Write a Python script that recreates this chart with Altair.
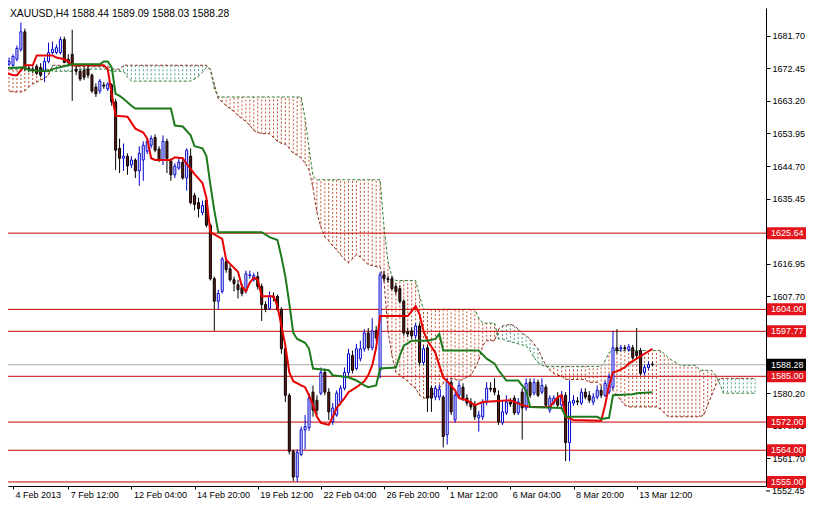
import json
import altair as alt
import numpy as np
import pandas as pd

TITLE = "XAUUSD,H4  1588.44 1589.09 1588.03 1588.28"

# ---- H4 candles, bar 0 = 4 Feb 2013 20:00 ----
OPEN = [
    1673.3, 1673.6, 1673.3, 1675.0, 1677.8, 1682.8, 1672.5, 1672.2, 1673.0, 1672.7,
    1671.6, 1674.4, 1676.9, 1676.9, 1676.9, 1680.6, 1675.0, 1676.4, 1672.2, 1671.6,
    1671.9, 1672.2, 1670.5, 1667.1, 1666.0, 1667.7, 1666.6, 1667.7, 1662.9, 1649.7,
    1646.9, 1647.5, 1645.0, 1646.4, 1643.3, 1646.4, 1648.9, 1650.6, 1652.8, 1649.5,
    1646.4, 1651.7, 1646.1, 1642.2, 1644.1, 1645.8, 1641.3, 1647.5, 1636.3, 1634.3,
    1631.5, 1634.9, 1627.9, 1612.7, 1606.3, 1609.1, 1617.5, 1615.5, 1612.4, 1611.0,
    1610.2, 1609.1, 1613.6, 1612.4, 1613.3, 1610.5, 1605.4, 1604.3, 1607.7, 1607.7,
    1604.0, 1592.8, 1579.6, 1563.7, 1556.4, 1562.8, 1569.8, 1570.4, 1580.5, 1578.2,
    1580.2, 1586.1, 1580.5, 1572.1, 1574.0, 1577.7, 1581.6, 1586.1, 1590.9, 1587.2,
    1590.0, 1592.8, 1597.3, 1593.1, 1597.9, 1586.7, 1613.8, 1612.7, 1612.7, 1610.5,
    1609.9, 1606.3, 1597.6, 1597.9, 1596.5, 1599.3, 1588.9, 1593.1, 1581.6, 1579.1,
    1579.1, 1579.1, 1568.4, 1583.3, 1572.6, 1579.6, 1581.9, 1578.8, 1577.7, 1576.8,
    1573.2, 1573.5, 1577.7, 1581.6, 1581.6, 1579.6, 1571.8, 1574.6, 1577.7, 1578.8,
    1574.6, 1580.5, 1576.0, 1583.3, 1580.2, 1583.3, 1580.5, 1581.9, 1575.4, 1577.4,
    1578.8, 1576.8, 1579.6, 1566.2, 1577.4, 1578.0, 1577.4, 1580.5, 1579.6, 1577.7,
    1579.1, 1581.0, 1579.6, 1580.5, 1581.9, 1593.1, 1592.8, 1593.1, 1592.5, 1593.1,
    1592.0, 1592.3, 1586.1, 1587.5, 1588.44,
]
HIGH = [
    1676.1, 1675.5, 1676.4, 1678.9, 1685.4, 1683.7, 1673.3, 1673.0, 1673.6, 1673.9,
    1675.5, 1679.7, 1680.0, 1679.2, 1681.4, 1681.4, 1676.4, 1683.4, 1673.3, 1672.2,
    1672.7, 1673.0, 1671.0, 1668.2, 1669.4, 1668.5, 1668.5, 1668.2, 1663.8, 1652.5,
    1651.1, 1648.3, 1647.5, 1646.9, 1650.3, 1651.7, 1652.5, 1653.4, 1653.7, 1650.3,
    1653.4, 1652.5, 1646.9, 1645.5, 1646.9, 1646.9, 1649.7, 1649.7, 1637.1, 1635.7,
    1634.9, 1635.7, 1628.4, 1613.3, 1609.6, 1618.9, 1618.3, 1616.6, 1613.3, 1612.4,
    1611.3, 1615.0, 1615.0, 1614.4, 1614.7, 1611.3, 1606.3, 1609.1, 1608.8, 1608.2,
    1604.6, 1593.7, 1580.2, 1564.2, 1564.2, 1570.7, 1574.0, 1580.2, 1582.4, 1579.6,
    1587.5, 1587.2, 1581.6, 1577.4, 1581.0, 1582.4, 1587.5, 1592.8, 1592.3, 1594.2,
    1595.1, 1598.4, 1598.7, 1601.5, 1599.3, 1614.7, 1615.0, 1613.6, 1613.6, 1611.3,
    1610.8, 1606.8, 1598.7, 1599.0, 1600.1, 1600.1, 1593.7, 1593.9, 1582.4, 1582.4,
    1582.7, 1579.6, 1584.4, 1584.1, 1580.5, 1583.6, 1583.0, 1579.9, 1578.8, 1578.0,
    1575.2, 1578.5, 1583.3, 1583.3, 1584.4, 1581.0, 1578.2, 1579.6, 1578.8, 1579.6,
    1578.8, 1581.6, 1584.4, 1584.4, 1584.4, 1584.1, 1584.4, 1582.7, 1579.6, 1579.6,
    1580.5, 1580.8, 1580.5, 1583.9, 1579.6, 1579.1, 1581.6, 1581.6, 1580.8, 1580.2,
    1582.4, 1582.2, 1583.8, 1585.8, 1597.9, 1598.4, 1593.9, 1593.9, 1594.2, 1593.9,
    1598.7, 1593.1, 1588.3, 1589.2, 1589.09,
]
LOW = [
    1672.7, 1673.0, 1672.7, 1674.4, 1677.2, 1671.6, 1671.3, 1671.0, 1670.5, 1669.9,
    1668.5, 1673.9, 1676.4, 1676.4, 1676.4, 1673.9, 1673.3, 1663.2, 1670.5, 1668.8,
    1669.1, 1669.6, 1665.4, 1664.3, 1665.2, 1666.6, 1666.0, 1661.8, 1643.6, 1642.7,
    1643.3, 1642.2, 1644.1, 1641.3, 1639.1, 1640.5, 1648.1, 1649.7, 1648.6, 1645.8,
    1645.0, 1642.7, 1640.5, 1641.3, 1643.6, 1640.8, 1637.7, 1633.8, 1632.1, 1630.1,
    1630.7, 1627.3, 1612.2, 1597.9, 1604.0, 1608.5, 1614.4, 1611.9, 1609.1, 1607.1,
    1607.7, 1608.5, 1612.7, 1611.9, 1609.6, 1600.7, 1603.2, 1603.8, 1606.3, 1603.5,
    1591.4, 1577.7, 1562.8, 1555.2, 1555.0, 1562.3, 1564.2, 1569.5, 1573.5, 1574.0,
    1579.6, 1579.6, 1572.6, 1571.2, 1573.5, 1576.8, 1581.0, 1585.2, 1585.8, 1586.7,
    1589.2, 1592.0, 1592.3, 1592.3, 1595.1, 1584.4, 1611.9, 1611.6, 1609.4, 1608.2,
    1605.7, 1596.5, 1596.2, 1595.6, 1595.6, 1588.1, 1588.3, 1574.9, 1574.9, 1578.2,
    1578.2, 1564.8, 1565.6, 1574.0, 1571.8, 1578.8, 1578.0, 1576.6, 1575.4, 1572.6,
    1569.3, 1572.6, 1576.8, 1580.5, 1579.6, 1571.2, 1571.2, 1574.0, 1576.3, 1574.0,
    1574.0, 1567.0, 1575.2, 1578.8, 1579.6, 1579.1, 1579.9, 1576.3, 1574.6, 1576.8,
    1576.3, 1576.3, 1560.9, 1560.9, 1576.6, 1576.8, 1576.8, 1578.5, 1577.4, 1576.8,
    1578.5, 1578.8, 1579.1, 1579.9, 1581.3, 1591.4, 1592.0, 1592.3, 1592.0, 1589.7,
    1590.0, 1585.2, 1585.2, 1586.9, 1588.03,
]
CLOSE = [
    1675.0, 1674.4, 1675.8, 1678.1, 1682.8, 1672.7, 1672.2, 1671.9, 1671.0, 1670.5,
    1674.4, 1676.9, 1677.8, 1678.3, 1680.6, 1674.1, 1674.1, 1673.6, 1671.6, 1669.4,
    1669.9, 1670.5, 1666.0, 1665.2, 1668.8, 1667.4, 1668.0, 1662.9, 1649.2, 1646.9,
    1647.5, 1644.7, 1646.4, 1643.3, 1648.3, 1650.6, 1651.7, 1652.5, 1649.2, 1646.4,
    1651.7, 1646.9, 1642.2, 1644.7, 1645.8, 1641.3, 1649.2, 1634.3, 1633.8, 1632.6,
    1633.5, 1627.9, 1612.7, 1606.3, 1608.5, 1618.3, 1615.3, 1612.4, 1611.3, 1609.6,
    1608.5, 1614.1, 1613.8, 1613.6, 1610.5, 1605.4, 1604.0, 1607.7, 1607.4, 1604.0,
    1592.8, 1579.6, 1563.7, 1556.4, 1563.4, 1569.8, 1570.7, 1578.8, 1575.4, 1575.4,
    1586.1, 1580.5, 1574.9, 1576.0, 1580.2, 1581.6, 1586.1, 1591.4, 1586.7, 1592.8,
    1592.8, 1597.3, 1593.1, 1597.9, 1595.9, 1613.8, 1612.7, 1612.4, 1609.9, 1609.1,
    1606.3, 1597.3, 1597.0, 1596.5, 1599.3, 1588.9, 1592.8, 1578.8, 1578.8, 1581.6,
    1581.3, 1567.9, 1583.3, 1574.9, 1579.6, 1582.4, 1578.8, 1577.4, 1576.3, 1573.5,
    1574.0, 1577.7, 1581.6, 1581.3, 1580.5, 1572.1, 1574.9, 1577.7, 1577.1, 1574.6,
    1577.7, 1576.0, 1583.0, 1579.6, 1583.3, 1579.6, 1582.4, 1576.8, 1578.8, 1578.8,
    1576.8, 1579.6, 1566.2, 1577.7, 1578.2, 1577.7, 1580.5, 1579.1, 1578.2, 1579.1,
    1581.0, 1579.6, 1583.0, 1584.7, 1593.1, 1592.3, 1593.1, 1592.8, 1593.4, 1590.3,
    1590.9, 1585.8, 1587.5, 1588.3, 1588.28,
]

# ---- Tenkan-sen (red) and Kijun-sen (green): (bar, price) vertices ----
TENKAN = [
    (0, 1671.3), (2, 1670.5), (3, 1670.5), (5, 1673.3), (7, 1673.3), (8, 1676.1),
    (12, 1676.1), (13, 1675.5), (15, 1675.0), (16, 1674.4), (17, 1673.3), (25, 1673.3),
    (26, 1672.2), (27, 1665.2), (28, 1659.0), (31, 1658.7), (33, 1655.3), (35, 1654.2),
    (36, 1652.5), (37, 1646.9), (38, 1646.4), (42, 1646.4), (43, 1647.2), (45, 1646.9),
    (46, 1645.3), (48, 1642.4), (50, 1639.9), (51, 1635.7), (52, 1625.9), (55, 1624.0),
    (56, 1618.1), (57, 1616.9), (59, 1614.7), (60, 1610.5), (61, 1609.1), (62, 1611.6),
    (63, 1613.0), (64, 1612.4), (65, 1607.7), (68, 1607.7), (69, 1604.9), (70, 1599.3),
    (71, 1593.7), (72, 1586.1), (73, 1583.6), (75, 1582.4), (76, 1581.9), (77, 1579.6),
    (78, 1576.8), (79, 1573.5), (80, 1571.8), (82, 1571.2), (83, 1573.5), (84, 1576.0),
    (86, 1578.8), (87, 1580.5), (89, 1581.9), (91, 1583.6), (92, 1585.3), (93, 1588.1),
    (94, 1593.1), (95, 1602.1), (102, 1602.1), (103, 1603.5), (104, 1604.9), (105, 1602.6),
    (106, 1597.9), (107, 1595.1), (109, 1591.7), (110, 1588.1), (111, 1584.7), (112, 1583.6),
    (114, 1581.0), (115, 1578.8), (117, 1578.2), (119, 1576.8), (121, 1577.7), (128, 1578.2),
    (131, 1576.8), (133, 1576.3), (138, 1576.3), (140, 1579.1), (141, 1579.6), (142, 1573.5),
    (144, 1572.6), (151, 1572.4), (152, 1576.8), (153, 1582.4), (154, 1586.1), (155, 1586.4),
    (157, 1587.5), (158, 1588.6), (160, 1590.0), (162, 1591.4), (164, 1592.8),
]
KIJUN = [
    (0, 1672.5), (5, 1672.7), (6, 1671.9), (11, 1671.6), (12, 1672.2), (16, 1673.3),
    (17, 1673.6), (24, 1673.6), (25, 1674.4), (26, 1674.4), (27, 1672.7), (28, 1665.2),
    (29, 1664.6), (30, 1663.8), (32, 1661.8), (33, 1661.0), (42, 1661.0), (43, 1656.2),
    (45, 1655.9), (47, 1653.4), (48, 1650.3), (50, 1649.7), (51, 1647.5), (52, 1639.4),
    (53, 1632.1), (54, 1625.9), (65, 1625.9), (67, 1624.5), (69, 1623.7), (70, 1618.9),
    (71, 1613.3), (72, 1605.7), (73, 1597.3), (74, 1595.6), (76, 1594.5), (77, 1592.8),
    (78, 1587.2), (82, 1586.7), (83, 1585.3), (87, 1584.7), (89, 1583.8), (91, 1582.4),
    (92, 1581.9), (94, 1582.4), (95, 1587.2), (99, 1587.5), (100, 1590.9), (101, 1593.7),
    (103, 1595.1), (107, 1595.1), (109, 1595.6), (110, 1597.0), (111, 1592.3), (120, 1592.3),
    (122, 1590.0), (124, 1588.6), (125, 1586.7), (127, 1583.8), (130, 1583.8), (132, 1581.0),
    (133, 1576.3), (141, 1576.0), (142, 1573.5), (150, 1573.5), (151, 1572.9), (153, 1573.2),
    (154, 1579.6), (159, 1579.9), (160, 1580.2), (164, 1580.5),
]

# ---- Kumo (cloud) borders, one value per bar 0..190 ----
SPAN_A = [
    1666.6, 1666.0, 1665.7, 1665.7, 1665.7, 1666.0, 1667.1, 1668.0, 1668.5, 1669.1,
    1669.6, 1670.5, 1673.3, 1673.3, 1673.3, 1673.3, 1673.3, 1673.3, 1673.0, 1673.0,
    1673.0, 1673.0, 1673.0, 1673.0, 1673.0, 1673.0, 1673.0, 1672.2, 1672.2, 1672.2,
    1673.3, 1673.3, 1673.3, 1673.3, 1673.3, 1673.3, 1673.3, 1673.3, 1673.3, 1673.3,
    1673.3, 1673.3, 1673.3, 1673.3, 1673.3, 1673.3, 1673.3, 1673.3, 1673.3, 1673.3,
    1673.3, 1673.3, 1672.2, 1668.0, 1663.8, 1662.9, 1661.8, 1661.0, 1660.1, 1659.0,
    1658.2, 1657.3, 1656.2, 1654.8, 1654.2, 1653.9, 1653.9, 1653.9, 1652.8, 1651.7,
    1651.1, 1650.9, 1649.7, 1648.3, 1647.8, 1646.9, 1645.5, 1643.6, 1638.5, 1631.5,
    1627.3, 1624.5, 1623.4, 1622.0, 1620.9, 1619.5, 1618.1, 1617.2, 1618.3, 1619.5,
    1618.9, 1617.8, 1616.7, 1616.4, 1616.1, 1616.1, 1611.9, 1597.9, 1590.9, 1586.1,
    1585.3, 1584.4, 1583.6, 1582.4, 1581.6, 1579.6, 1578.8, 1578.8, 1579.6, 1580.5,
    1581.6, 1583.0, 1584.1, 1584.4, 1584.1, 1583.8, 1584.1, 1584.7, 1585.3, 1587.2,
    1589.5, 1593.7, 1595.1, 1595.1, 1595.1, 1598.4, 1599.3, 1599.5, 1599.8, 1599.3,
    1598.4, 1597.3, 1596.5, 1595.6, 1594.2, 1592.8, 1590.3, 1588.1, 1586.7, 1585.8,
    1585.3, 1585.0, 1584.1, 1584.1, 1584.1, 1584.1, 1584.1, 1584.1, 1583.3, 1583.3,
    1583.3, 1582.4, 1582.4, 1582.4, 1581.0, 1579.6, 1578.2, 1576.8, 1576.3, 1576.3,
    1576.3, 1576.3, 1576.3, 1576.3, 1576.3, 1576.3, 1575.7, 1574.6, 1573.5, 1573.5,
    1573.5, 1573.5, 1573.5, 1573.5, 1573.5, 1573.5, 1573.5, 1574.0, 1576.8, 1579.6,
    1582.4, 1584.4, 1584.4, 1584.4, 1584.4, 1584.4, 1584.4, 1584.4, 1584.4, 1584.4,
    1584.4,
]
SPAN_B = [
    1672.2, 1672.2, 1672.2, 1672.2, 1672.2, 1672.2, 1672.2, 1672.2, 1672.2, 1672.2,
    1672.2, 1672.2, 1671.6, 1671.6, 1671.6, 1671.6, 1671.6, 1671.6, 1672.2, 1672.2,
    1672.2, 1672.2, 1672.2, 1672.2, 1672.2, 1672.2, 1672.2, 1671.6, 1671.6, 1671.6,
    1671.6, 1669.9, 1668.8, 1668.8, 1668.8, 1668.8, 1668.8, 1668.8, 1668.8, 1668.8,
    1668.8, 1668.8, 1668.8, 1668.8, 1668.8, 1668.8, 1668.8, 1668.8, 1669.4, 1670.2,
    1671.3, 1672.7, 1672.2, 1666.6, 1664.3, 1664.3, 1664.3, 1664.3, 1664.3, 1664.3,
    1664.3, 1664.3, 1664.3, 1664.3, 1664.3, 1664.3, 1664.3, 1664.3, 1664.3, 1664.3,
    1664.3, 1664.3, 1664.3, 1664.3, 1664.3, 1664.3, 1658.2, 1649.7, 1641.9, 1640.8,
    1640.8, 1640.8, 1640.8, 1640.8, 1640.8, 1640.8, 1640.8, 1640.8, 1640.8, 1640.8,
    1640.8, 1640.8, 1640.8, 1640.8, 1640.8, 1640.8, 1627.3, 1617.5, 1613.3, 1612.2,
    1612.2, 1612.2, 1612.2, 1612.2, 1612.2, 1607.7, 1604.0, 1604.0, 1604.0, 1604.0,
    1604.0, 1604.0, 1604.0, 1604.0, 1604.0, 1604.0, 1604.0, 1604.0, 1604.0, 1604.0,
    1601.5, 1600.1, 1600.1, 1600.1, 1600.1, 1595.6, 1595.6, 1595.1, 1594.8, 1594.5,
    1594.2, 1593.9, 1593.7, 1592.3, 1590.3, 1588.9, 1588.1, 1587.8, 1587.8, 1587.8,
    1587.8, 1587.8, 1587.8, 1587.8, 1587.8, 1587.8, 1587.8, 1587.8, 1587.8, 1587.8,
    1587.8, 1587.8, 1589.5, 1591.7, 1592.3, 1592.3, 1592.3, 1592.3, 1592.3, 1592.3,
    1592.3, 1592.3, 1592.3, 1592.3, 1592.3, 1592.3, 1592.3, 1591.4, 1590.3, 1589.5,
    1588.9, 1588.1, 1588.1, 1588.1, 1588.1, 1588.1, 1586.7, 1586.7, 1586.7, 1586.7,
    1585.3, 1583.0, 1580.2, 1580.2, 1580.2, 1580.2, 1580.2, 1580.2, 1580.2, 1580.2,
    1580.2,
]

LEVELS = [1625.64, 1604.00, 1597.77, 1585.00, 1572.00, 1564.00, 1555.00]
LAST_PRICE = 1588.28
Y_TICKS = [1681.70, 1672.45, 1663.20, 1653.95, 1644.70, 1635.45, 1626.20, 1616.95,
           1607.70, 1598.45, 1589.20, 1580.20, 1570.95, 1561.70]
Y_TICK_BOTTOM = 1552.45
X_TICKS = [2, 16, 32, 48, 64, 80, 96, 112, 128, 144, 160]
X_LABELS = ["4 Feb 2013", "7 Feb 12:00", "12 Feb 04:00", "14 Feb 20:00", "19 Feb 12:00",
            "22 Feb 04:00", "26 Feb 20:00", "1 Mar 12:00", "6 Mar 04:00", "8 Mar 20:00",
            "13 Mar 12:00"]

# ---- styling ----
W, H = 758, 478
Y_MIN, Y_MAX = 1553.85, 1689.56
BOX_HALF = 6 * (Y_MAX - Y_MIN) / H   # half box height (6 px) in price units
FONT = "Liberation Sans"
BULL = "#0000CC"
BEAR_FILL = "#6E1A14"
TENKAN_C = "#E60000"
KIJUN_C = "#1B7A1B"
KUMO_UP = "#4F9F8F"
KUMO_DN = "#C8502E"
SPAN_A_C = "#8B2E1E"
SPAN_B_C = "#2E7D32"
LEVEL_C = "#C80000"
BOX_C = "#E3141C"

xs = alt.Scale(domain=[2, 191.5], nice=False, zero=False)
ys = alt.Scale(domain=[Y_MIN, Y_MAX], nice=False, zero=False)

x_axis = alt.Axis(
    values=X_TICKS,
    labelExpr=json.dumps(X_LABELS) + "[floor(datum.value / 16)]",
    labelAlign="left", labelOffset=2, labelPadding=1, tickSize=3,
    labelFont=FONT, labelFontSize=9, labelColor="black",
    domainColor="black", tickColor="black", grid=False, labelOverlap=False,
    labelFlush=False,
)
y_axis = alt.Axis(
    orient="right", values=Y_TICKS, format=".2f",
    tickSize=4, labelPadding=2, labelFont=FONT, labelFontSize=9, labelColor="black",
    domainColor="black", tickColor="black", grid=False, labelOverlap=False,
    labelFlush=False,
)


def X(field):
    return alt.X(field, type="quantitative", scale=xs, axis=x_axis, title=None)


def Y(field):
    return alt.Y(field, type="quantitative", scale=ys, axis=y_axis, title=None)


candles = pd.DataFrame({"bar": range(len(OPEN)), "open": OPEN, "high": HIGH,
                        "low": LOW, "close": CLOSE})
up = candles["close"] >= candles["open"]
candles["wick"] = np.where(up, BULL, "#000000")
candles["fill"] = np.where(up, "#FFFFFF", BEAR_FILL)
candles["stroke"] = np.where(up, BULL, "#000000")

cloud = pd.DataFrame({"bar": range(len(SPAN_A)), "a": SPAN_A, "b": SPAN_B})
cloud["col"] = np.where(cloud["a"] > cloud["b"], KUMO_UP, KUMO_DN)

tenkan = pd.DataFrame(TENKAN, columns=["bar", "v"])
kijun = pd.DataFrame(KIJUN, columns=["bar", "v"])

levels = pd.DataFrame({"price": LEVELS})
box_prices = LEVELS + [LAST_PRICE]
boxes = pd.DataFrame({
    "price": box_prices,
    "lo": [p - BOX_HALF for p in box_prices],
    "hi": [p + BOX_HALF for p in box_prices],
    "label": [f"{p:.2f}" for p in box_prices],
    "box": [BOX_C] * len(LEVELS) + ["#000000"],
})
last_df = pd.DataFrame({"price": [LAST_PRICE]})
bottom_tick = pd.DataFrame({"price": [Y_TICK_BOTTOM], "label": [f"{Y_TICK_BOTTOM:.2f}"]})
title_df = pd.DataFrame({"t": [TITLE]})

kumo = alt.Chart(cloud).mark_rule(strokeDash=[2, 2], strokeWidth=1, clip=True).encode(
    x=X("bar"), y=Y("a"), y2="b", color=alt.Color("col:N", scale=None))
span_a = alt.Chart(cloud).mark_line(strokeDash=[3, 2], strokeWidth=1, color=SPAN_A_C,
                                    clip=True).encode(x=X("bar"), y=Y("a"))
span_b = alt.Chart(cloud).mark_line(strokeDash=[3, 2], strokeWidth=1, color=SPAN_B_C,
                                    clip=True).encode(x=X("bar"), y=Y("b"))
level_lines = alt.Chart(levels).mark_rule(color=LEVEL_C, strokeWidth=1, clip=True).encode(
    y=Y("price"))
last_line = alt.Chart(last_df).mark_rule(color="#A8A8A8", strokeWidth=1, clip=True).encode(
    y=Y("price"))
wicks = alt.Chart(candles).mark_rule(strokeWidth=1, clip=True).encode(
    x=X("bar"), y=Y("low"), y2="high", color=alt.Color("wick:N", scale=None))
bodies = alt.Chart(candles).mark_bar(width=2, strokeWidth=1, clip=True).encode(
    x=X("bar"), y=Y("open"), y2="close",
    fill=alt.Fill("fill:N", scale=None), stroke=alt.Stroke("stroke:N", scale=None))
tenkan_line = alt.Chart(tenkan).mark_line(color=TENKAN_C, strokeWidth=2, clip=True).encode(
    x=X("bar"), y=Y("v"))
kijun_line = alt.Chart(kijun).mark_line(color=KIJUN_C, strokeWidth=2, clip=True).encode(
    x=X("bar"), y=Y("v"))
box_marks = alt.Chart(boxes).mark_rect(strokeWidth=0).encode(
    x=alt.value(W + 1), x2=alt.value(W + 40), y=Y("lo"), y2="hi",
    fill=alt.Fill("box:N", scale=None))
box_text = alt.Chart(boxes).mark_text(align="left", baseline="middle", font=FONT,
                                      fontSize=9, color="white").encode(
    x=alt.value(W + 5), y=Y("price"), text="label:N")
bottom_tick_mark = alt.Chart(bottom_tick).mark_rule(color="black").encode(
    x=alt.value(W), x2=alt.value(W + 4), y=Y("price"))
bottom_tick_text = alt.Chart(bottom_tick).mark_text(align="left", baseline="middle",
                                                    font=FONT, fontSize=9,
                                                    color="black").encode(
    x=alt.value(W + 6), y=Y("price"), text="label:N")
title = alt.Chart(title_df).mark_text(align="left", baseline="top", font=FONT,
                                      fontSize=10.3, color="black").encode(
    x=alt.value(2), y=alt.value(1), text="t:N")

chart = alt.layer(
    kumo, span_a, span_b, level_lines, last_line, wicks, bodies,
    tenkan_line, kijun_line, box_marks, box_text, bottom_tick_mark, bottom_tick_text, title,
).properties(
    width=W, height=H, padding=0, background="white",
).configure_view(stroke=None)

chart.save("out.html", embed_options={"renderer": "svg", "actions": False})
